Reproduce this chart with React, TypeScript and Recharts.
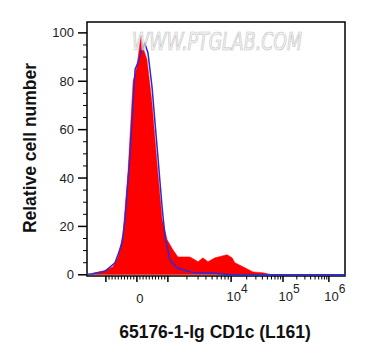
import { ComposedChart, Area, Line, XAxis, YAxis, ReferenceArea, Label } from 'recharts';

// histogram values on the display (channel) scale, 0..1024 across the plot
const redChannel = [12, 32, 71, 103, 123, 135, 143, 163, 183, 198, 214, 222, 238, 258, 278, 298, 318, 341, 361, 409, 441, 460, 480, 508, 556, 576, 587, 619, 659, 699, 734, 1024];
const redCount = [0, 0.8, 1.8, 3.3, 7.4, 13, 17, 43, 80, 86, 98.8, 94, 89, 71, 46, 23, 14.5, 10.3, 7.4, 7.4, 5.4, 7, 5.4, 7, 8.3, 7, 5, 3.3, 1.2, 0.8, 0, 0];

// isotype control
const blueChannel = [4, 20, 71, 111, 123, 139, 151, 171, 191, 202, 218, 230, 242, 258, 278, 298, 310, 329, 357, 381, 421, 508, 568, 1024];
const blueCount = [0.2, 0.4, 1.4, 5, 8.3, 13, 23, 50, 85, 87.6, 93, 95.5, 91.7, 77.7, 53, 28, 15.7, 6.2, 2.9, 2.1, 0.9, 0.6, 0, 0];

const yMajor = [0, 20, 40, 60, 80, 100];
const yMinor = [5, 10, 15, 25, 30, 35, 45, 50, 55, 65, 70, 75, 85, 90, 95];

// biexponential axis: decade values and where they sit on the channel scale
const decadeValues = [-1000, 0, 1000, 10000, 100000, 1000000];
const decadeChannels = [75, 198, 321, 572, 778, 960];
const decadeLabels = ['', '0', '', '4', '5', '6'];
const minorValues = [
  -900, -800, -700, -600, -500, -400, -300, -200, -100,
  100, 200, 300, 400, 500, 600, 700, 800, 900,
  2000, 3000, 4000, 5000, 6000, 7000, 8000, 9000,
  20000, 30000, 40000, 50000, 60000, 70000, 80000, 90000,
  200000, 300000, 400000, 500000, 600000, 700000, 800000, 900000,
];

function toChannel(v: number) {
  if (v <= 0) return decadeChannels[1] + (v / 1000) * (decadeChannels[1] - decadeChannels[0]);
  if (v <= 1000) return decadeChannels[1] + (v / 1000) * (decadeChannels[2] - decadeChannels[1]);
  const d = Math.floor(Math.log10(v));
  const i = d - 1; // index of 10^d in decadeValues
  const frac = Math.log10(v) - d;
  return decadeChannels[i] + frac * (decadeChannels[i + 1] - decadeChannels[i]);
}

const xTickInfo = [
  ...decadeValues.map((v, i) => ({ ch: decadeChannels[i], major: true, label: decadeLabels[i] })),
  ...minorValues.map((v) => ({ ch: toChannel(v), major: false, label: '' })),
];
const xTicks = xTickInfo.map((t) => t.ch).sort((a, b) => a - b);

const rows = Array.from(new Set([...redChannel, ...blueChannel]))
  .sort((a, b) => a - b)
  .map((ch) => {
    const ri = redChannel.indexOf(ch);
    const bi = blueChannel.indexOf(ch);
    return { ch, red: ri >= 0 ? redCount[ri] : null, blue: bi >= 0 ? blueCount[bi] : null };
  });

const font = '"Liberation Sans", Arial, sans-serif';

function XTick({ x, y, payload }: any) {
  const t = xTickInfo.find((d) => Math.abs(d.ch - payload.value) < 0.001);
  if (!t) return null;
  return (
    <g>
      <line x1={x} x2={x} y1={y} y2={y + (t.major ? 6 : 3.5)} stroke="#000" strokeWidth={t.major ? 1.5 : 1} />
      {t.label === '0' && (
        <text x={x + 3} y={y + 27} textAnchor="middle" fontSize={13} fill="#222" fontFamily={font}>0</text>
      )}
      {t.label !== '' && t.label !== '0' && (
        <text x={x + 6} y={y + 24.5} textAnchor="middle" fontSize={13} fill="#222" fontFamily={font}>
          <tspan>10</tspan>
          <tspan dy={-8} fontSize={12}>{t.label}</tspan>
        </text>
      )}
    </g>
  );
}

function YTick({ x, y, payload }: any) {
  const major = yMajor.includes(payload.value);
  return (
    <g>
      <line x1={x - (major ? 9 : 4)} x2={x} y1={y} y2={y} stroke="#000" strokeWidth={major ? 1.5 : 1} />
      {major && (
        <text x={x - 13} y={y} dy={4.5} textAnchor="end" fontSize={13} fill="#222" fontFamily={font}>
          {payload.value}
        </text>
      )}
    </g>
  );
}

function XTitle({ viewBox }: any) {
  return (
    <text x={viewBox.x + viewBox.width / 2 - 1} y={viewBox.y + 62} textAnchor="middle"
      fontSize={17.5} fontWeight="bold" fill="#111" fontFamily={font}>
      65176-1-Ig CD1c (L161)
    </text>
  );
}

function YTitle({ viewBox }: any) {
  const cy = viewBox.y + viewBox.height / 2 - 1;
  return (
    <text x={36} y={cy} transform={`rotate(-90, 36, ${cy})`} textAnchor="middle"
      fontSize={17.5} fontWeight="bold" fill="#111" fontFamily={font}>
      Relative cell number
    </text>
  );
}

export default function App() {
  return (
    <div style={{ position: 'absolute', left: 0, top: 0, width: 365, height: 360, background: '#fff' }}>
      <ComposedChart width={365} height={360} data={rows} margin={{ top: 22, right: 20, left: 0, bottom: 0 }}>
        <XAxis dataKey="ch" type="number" domain={[0, 1024]} ticks={xTicks} interval={0}
          axisLine={false} tickLine={false} tickSize={0} tickMargin={0} height={84}
          tick={(p: any) => <XTick {...p} />}>
          <Label content={XTitle} />
        </XAxis>
        <YAxis type="number" domain={[-0.5, 104.5]} ticks={[...yMajor, ...yMinor].sort((a, b) => a - b)} interval={0}
          axisLine={false} tickLine={false} tickSize={0} tickMargin={0} width={87}
          tick={(p: any) => <YTick {...p} />}>
          <Label content={YTitle} />
        </YAxis>
        <Area dataKey="red" type="linear" baseValue={0} fill="#ff0000" fillOpacity={1} stroke="#ff0000"
          strokeWidth={0.5} connectNulls dot={false} activeDot={false} isAnimationActive={false} />
        <Line dataKey="blue" type="linear" stroke="#2b2bd9" strokeWidth={1.5} connectNulls
          dot={false} activeDot={false} isAnimationActive={false} />
        <ReferenceArea x1={0} x2={1024} y1={-0.5} y2={104.5} fill="none" stroke="#000" strokeWidth={1.5} />
      </ComposedChart>
      <svg width={365} height={360} style={{ position: 'absolute', left: 0, top: 0, pointerEvents: 'none' }}>
        <text x={217} y={50} textAnchor="middle" fontSize={24} fontStyle="italic" textLength={170}
          lengthAdjust="spacingAndGlyphs" fill="#f2f2f2" fillOpacity={0.6} stroke="#c4c4c4" strokeWidth={0.7}
          fontFamily='"Liberation Sans Narrow", "DejaVu Sans Condensed", sans-serif'>
          WWW.PTGLAB.COM
        </text>
      </svg>
    </div>
  );
}
